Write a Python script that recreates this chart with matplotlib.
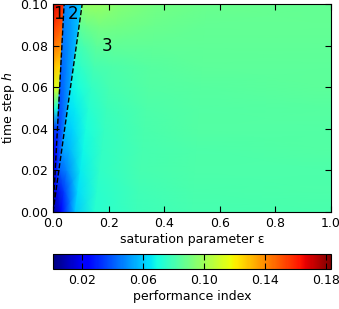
import numpy as np
import matplotlib
matplotlib.use('Agg')
import matplotlib.pyplot as plt

# rows of the value tables: time step h
h_levels = [0.00, 0.01, 0.02, 0.03, 0.04, 0.05, 0.06, 0.07, 0.08, 0.09, 0.10]

# slopes eps/h of the two dashed region boundaries
ratio_12 = 0.40
ratio_23 = 1.05

# region 1: columns at eps/h = 0 and ratio_12
region1 = [
    [0.005, 0.005],
    [0.010, 0.010],
    [0.018, 0.018],
    [0.025, 0.025],
    [0.035, 0.035],
    [0.075, 0.068],
    [0.115, 0.110],
    [0.130, 0.124],
    [0.145, 0.138],
    [0.157, 0.148],
    [0.168, 0.158],
]

# region 2: columns at eps/h = ratio_12, midway, ratio_23
region2 = [
    [0.005, 0.005, 0.005],
    [0.015, 0.020, 0.025],
    [0.024, 0.030, 0.040],
    [0.030, 0.036, 0.046],
    [0.034, 0.040, 0.050],
    [0.037, 0.043, 0.052],
    [0.040, 0.046, 0.054],
    [0.042, 0.048, 0.056],
    [0.044, 0.050, 0.058],
    [0.046, 0.052, 0.060],
    [0.048, 0.054, 0.062],
]

# region 3: columns at fraction s of the way from the boundary to eps = 1
region3_s = [0.0, 0.03, 0.08, 0.15, 0.3, 0.5, 1.0]
region3 = [
    [0.005, 0.022, 0.060, 0.073, 0.078, 0.080, 0.081],
    [0.018, 0.035, 0.063, 0.074, 0.079, 0.081, 0.082],
    [0.040, 0.048, 0.066, 0.075, 0.080, 0.082, 0.082],
    [0.052, 0.057, 0.068, 0.076, 0.080, 0.082, 0.083],
    [0.058, 0.062, 0.070, 0.077, 0.081, 0.083, 0.083],
    [0.063, 0.066, 0.073, 0.078, 0.082, 0.083, 0.084],
    [0.067, 0.070, 0.076, 0.080, 0.083, 0.084, 0.085],
    [0.072, 0.075, 0.080, 0.082, 0.084, 0.085, 0.085],
    [0.078, 0.081, 0.085, 0.086, 0.086, 0.086, 0.086],
    [0.086, 0.089, 0.091, 0.090, 0.088, 0.087, 0.087],
    [0.096, 0.098, 0.097, 0.094, 0.090, 0.088, 0.087],
]

vmin, vmax = 0.001, 0.183
cbar_ticks = [0.02, 0.06, 0.10, 0.14, 0.18]

plt.rcParams['font.family'] = 'DejaVu Sans'
plt.rcParams['font.size'] = 9

fig = plt.figure(figsize=(3.39, 3.09), dpi=100)
ax = fig.add_axes([53/339, 97/309, 278/339, 208/309])

h = np.array(h_levels)
kw = dict(cmap='jet', vmin=vmin, vmax=vmax, shading='gouraud', antialiased=False)

# region 1
r1 = np.array([0.0, ratio_12])
X1 = np.outer(h, r1)
Y1 = np.repeat(h[:, None], len(r1), axis=1)
ax.pcolormesh(X1, Y1, np.array(region1), **kw)

# region 2
r2 = np.array([ratio_12, 0.5*(ratio_12 + ratio_23), ratio_23])
X2 = np.outer(h, r2)
Y2 = np.repeat(h[:, None], len(r2), axis=1)
ax.pcolormesh(X2, Y2, np.array(region2), **kw)

# region 3
s = np.array(region3_s)
edge = h*ratio_23
X3 = edge[:, None] + (1 - edge[:, None])*s[None, :]
Y3 = np.repeat(h[:, None], len(s), axis=1)
mesh = ax.pcolormesh(X3, Y3, np.array(region3), **kw)

# dashed boundaries
ax.plot([0, ratio_12*0.1], [0, 0.1], 'k--', lw=1)
ax.plot([0, ratio_23*0.1], [0, 0.1], 'k--', lw=1)

ax.text(0.018, 0.095, '1', fontsize=12, ha='center', va='center')
ax.text(0.072, 0.095, '2', fontsize=12, ha='center', va='center')
ax.text(0.195, 0.080, '3', fontsize=12, ha='center', va='center')

ax.set_xlim(0, 1)
ax.set_ylim(0, 0.1)
ax.set_xticks(np.arange(0, 1.01, 0.2))
ax.set_yticks(np.arange(0, 0.101, 0.02))
ax.xaxis.set_major_formatter(plt.FormatStrFormatter('%.1f'))
ax.yaxis.set_major_formatter(plt.FormatStrFormatter('%.2f'))
ax.tick_params(direction='in', top=True, right=True, length=4, labelsize=9)
ax.set_xlabel('saturation parameter ε', fontsize=9, labelpad=2)
ax.set_ylabel('time step $h$', fontsize=9, labelpad=2)

cax = fig.add_axes([53/339, 40/309, 278/339, 15/309])
cb = fig.colorbar(mesh, cax=cax, orientation='horizontal', ticks=cbar_ticks)
cb.ax.xaxis.set_major_formatter(plt.FormatStrFormatter('%.2f'))
cb.ax.tick_params(direction='in', top=True, length=4, labelsize=9)
cb.set_label('performance index', fontsize=9, labelpad=2)

fig.savefig('out.png', dpi=100)
